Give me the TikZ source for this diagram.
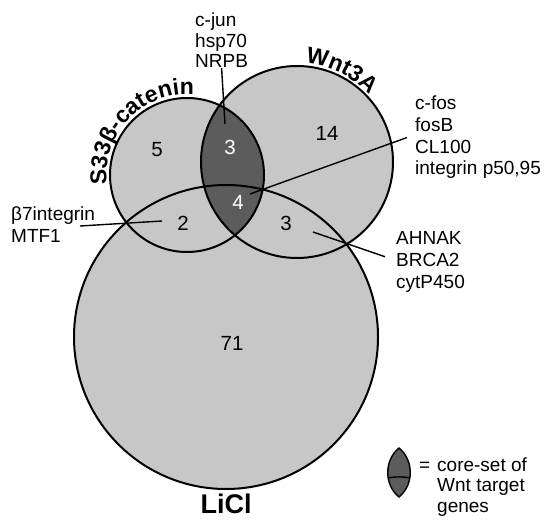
\documentclass[tikz,border=0pt]{standalone}
\usepackage{fontspec}
\setmainfont{Liberation Sans}
\usetikzlibrary{decorations.text,calc}
\definecolor{lightfill}{gray}{0.78}
\definecolor{darkfill}{gray}{0.36}
\begin{document}
\begin{tikzpicture}[x=1pt,y=1pt,
  lbl/.style={font=\fontsize{19}{21.7}\selectfont, align=left, inner sep=0pt, anchor=base west},
  num/.style={font=\fontsize{20.5}{24}\selectfont, inner sep=0pt},
  ring/.style={line width=2pt},
  pointer/.style={line width=1.4pt}]
\useasboundingbox (0,0) rectangle (548,-521);
\coordinate (cS) at (187,-175);
\coordinate (cW) at (297,-162);
\coordinate (cL) at (226,-337);
% fills
\fill[lightfill] (cS) circle (77) (cW) circle (96) (cL) circle (152);
\begin{scope}
  \clip (cS) circle (77);
  \fill[darkfill] (cW) circle (96);
\end{scope}
\draw[ring] (cS) circle (77) (cW) circle (96) (cL) circle (152);
% numbers
\node[num] (n5) at (157,-150) {5};
\node[num,white] (n3) at (230,-147) {3};
\node[num,white] (n4) at (238,-202) {4};
\node[num] (n2) at (183,-223) {2};
\node[num] (n14) at (327,-133) {14};
\node[num] (n3b) at (286,-223) {3};
\node[num] (n71) at (232,-343) {71};
% set labels
\path[decorate, decoration={text along path, text align=center,
  text={|\bfseries\fontsize{23}{26}\selectfont|S33β-catenin}}]
  ($(cS)+(192:80.5)$) arc[start angle=192, end angle=80, radius=80.5];
\path[decorate, decoration={text along path, text align=center,
  text={|\bfseries\fontsize{23}{26}\selectfont|Wnt3A}}]
  ($(cW)+(94:99)$) arc[start angle=94, end angle=34, radius=99];
\node[font=\bfseries\fontsize{27}{30}\selectfont, inner sep=0pt] (licl) at (226,-504) {LiCl};
% gene labels
\node[lbl, font=\fontsize{19}{20.5}\selectfont] (jun) at (195,-68) {c-jun\\hsp70\\NRPB};
\node[lbl] (fos) at (415,-175) {c-fos\\fosB\\CL100\\integrin p50,95};
\node[lbl] (ahn) at (396,-288) {AHNAK\\BRCA2\\cytP450};
\node[lbl] (b7) at (11,-242) {β7integrin\\MTF1};
% pointers
\coordinate (junEnd) at (225,-124);
\coordinate (fosEnd) at (250,-194);
\coordinate (ahnEnd) at (313,-232);
\coordinate (b7Start) at (80,-226);
\coordinate (b7End) at (162,-221);
\draw[pointer] (jun.south) -- (junEnd);
\draw[pointer] ([xshift=-8pt]fos.west) -- (fosEnd);
\draw[pointer] ([shift={(-11pt,5pt)}]ahn.west) -- (ahnEnd);
\draw[pointer] (b7Start) -- (b7End);
% legend
\filldraw[fill=darkfill, line width=1.4pt] (399,-448) .. controls (384,-460) and (384,-485) .. (399,-497)
  .. controls (414,-485) and (414,-460) .. (399,-448) -- cycle;
\draw[line width=1.4pt] (387.8,-478) .. controls (395,-476.5) and (403,-476.5) .. (410.2,-478);
\node[lbl] (eq) at (419,-471) {=};
\node[lbl, font=\fontsize{19}{20.5}\selectfont] (leg) at (437,-512) {core-set of\\Wnt target\\genes};
\end{tikzpicture}
\end{document}
